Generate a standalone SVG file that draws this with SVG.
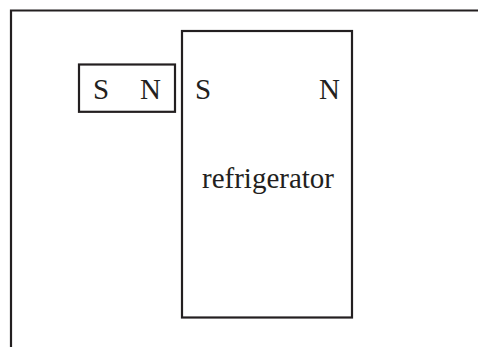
<svg xmlns="http://www.w3.org/2000/svg" width="478" height="347" viewBox="0 0 478 347">
<style>
.ln{fill:none;stroke:#231f20;stroke-width:2.2}
.t{font-family:"Liberation Serif","Times New Roman",serif;font-size:29px;fill:#231f20}
</style>
<rect width="478" height="347" fill="#ffffff"/>
<g id="frame">
<path class="ln" d="M11,347 V10.5 H478"/>
</g>
<g id="magnet">
<rect class="ln" x="79" y="64.5" width="96" height="47.3"/>
<text class="t" x="93" y="99">S</text>
<text class="t" x="140" y="99">N</text>
</g>
<g id="refrigerator">
<rect class="ln" x="182" y="31" width="170" height="286.5"/>
<text class="t" x="195" y="99">S</text>
<text class="t" x="319" y="99">N</text>
<text class="t" x="202" y="188">refrigerator</text>
</g>
<g id="connectors"></g>
</svg>
